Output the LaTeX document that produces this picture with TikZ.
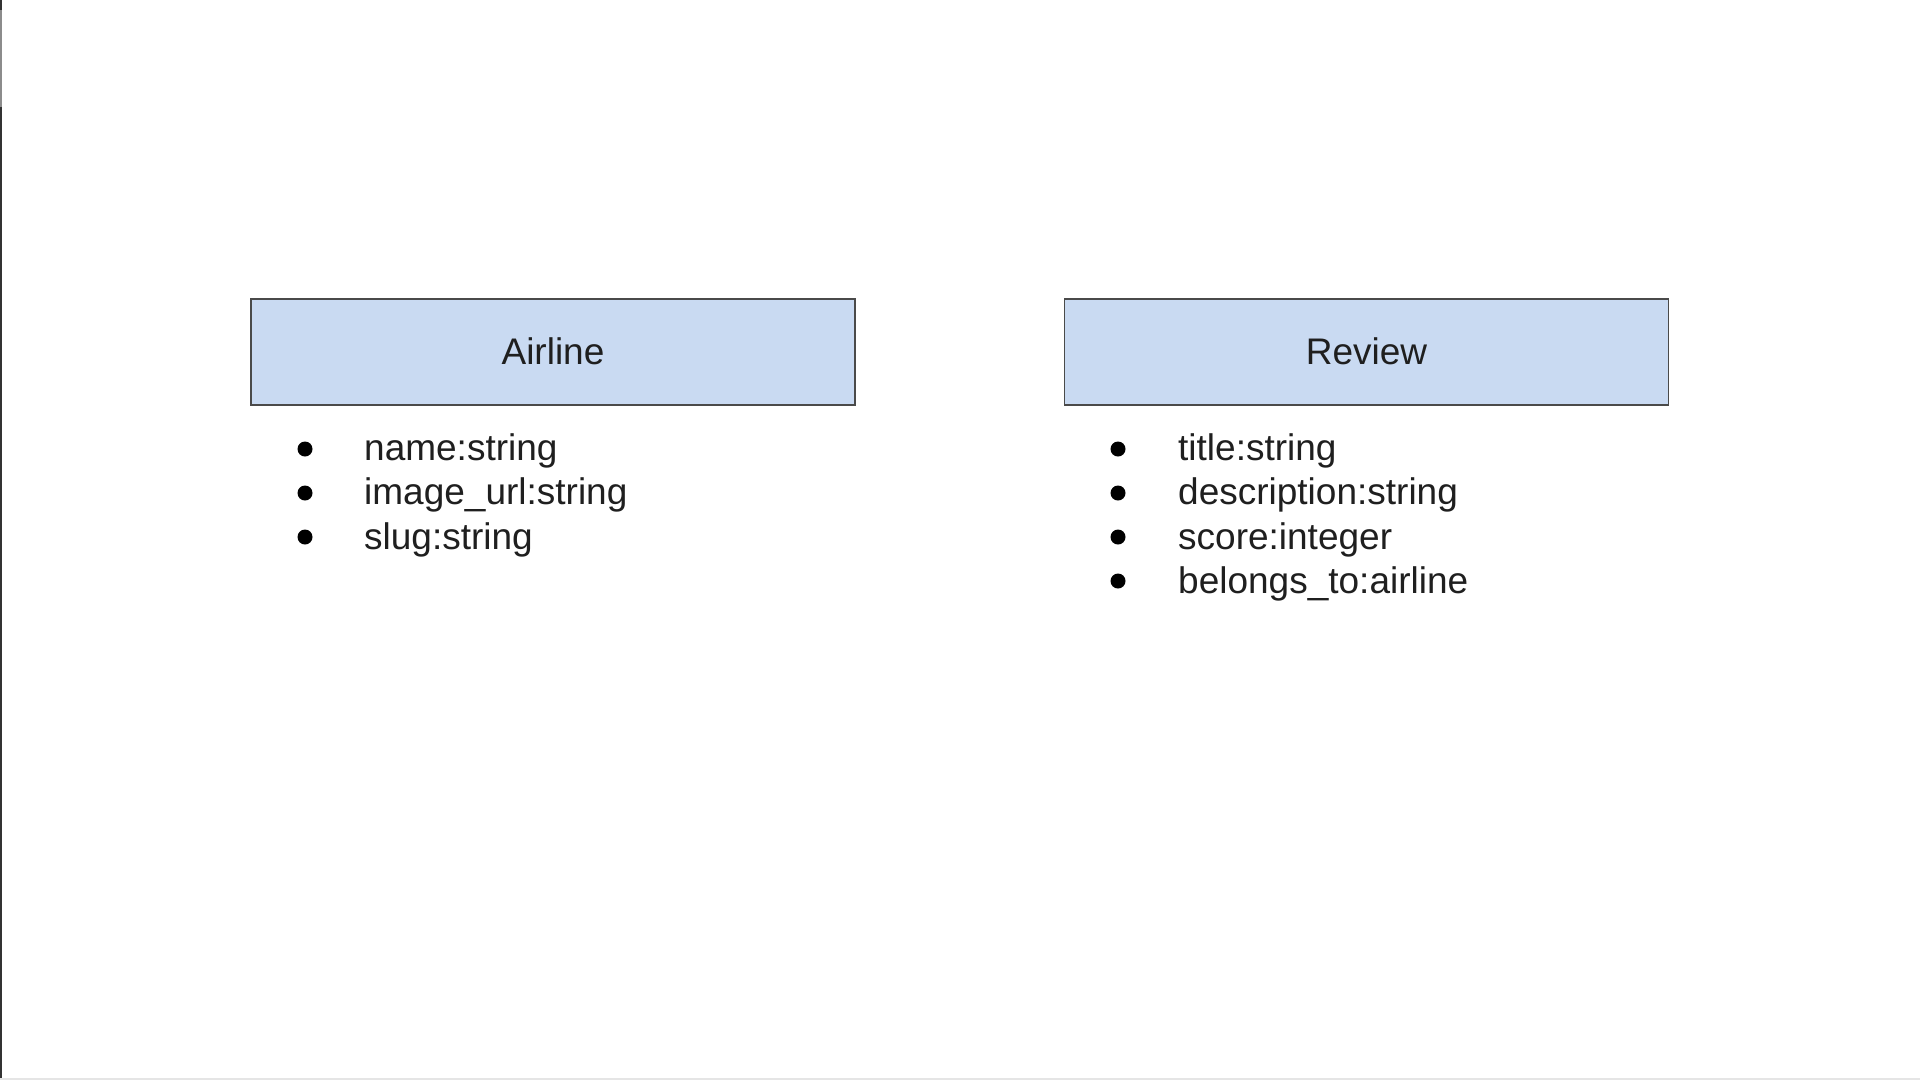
\documentclass[tikz,border=0pt]{standalone}
\usepackage{fontspec}
\setmainfont{Liberation Sans}
\definecolor{boxfill}{HTML}{C9DAF2}
\definecolor{boxline}{HTML}{4A4A4A}
\definecolor{txt}{HTML}{1F1F1F}
\begin{document}
\begin{tikzpicture}[x=1pt,y=-1pt,
  entity/.style={draw=boxline,line width=1.6pt,fill=boxfill,minimum width=604pt,minimum height=106pt,inner sep=0pt},
  title/.style={anchor=base,inner sep=0pt,text=txt,font=\fontsize{37}{44}\selectfont},
  item/.style={anchor=base west,inner sep=0pt,text=txt,font=\fontsize{37}{44}\selectfont},
  dot/.style={circle,fill=black,inner sep=0pt,minimum size=15pt}]
\useasboundingbox (0,0) rectangle (1920,1080);
\fill[white] (0,0) rectangle (1920,1080);
% screen edges
\fill[black!80] (0,0) rectangle (2,1080);
\fill[black!45] (0,10) rectangle (2,107);
\fill[black!10] (0,1078) rectangle (1920,1080);
% boxes
\node[entity] (airline) at (553,352) {};
\node[title] (airlineT) at (553,364) {Airline};
\node[entity] (review) at (1366.5,352) {};
\node[title] (reviewT) at (1366.5,364) {Review};
% airline list
\node[dot] (a1) at (305,449) {};
\node[dot] (a2) at (305,493) {};
\node[dot] (a3) at (305,537) {};
\node[item] (at1) at (364,460) {name:string};
\node[item] (at2) at (364,504.5) {image\_url:string};
\node[item] (at3) at (364,549) {slug:string};
% review list
\node[dot] (r1) at (1118,449) {};
\node[dot] (r2) at (1118,493) {};
\node[dot] (r3) at (1118,537) {};
\node[dot] (r4) at (1118,581) {};
\node[item] (rt1) at (1178,460) {title:string};
\node[item] (rt2) at (1178,504.5) {description:string};
\node[item] (rt3) at (1178,549) {score:integer};
\node[item] (rt4) at (1178,593.5) {belongs\_to:airline};
\end{tikzpicture}
\end{document}
